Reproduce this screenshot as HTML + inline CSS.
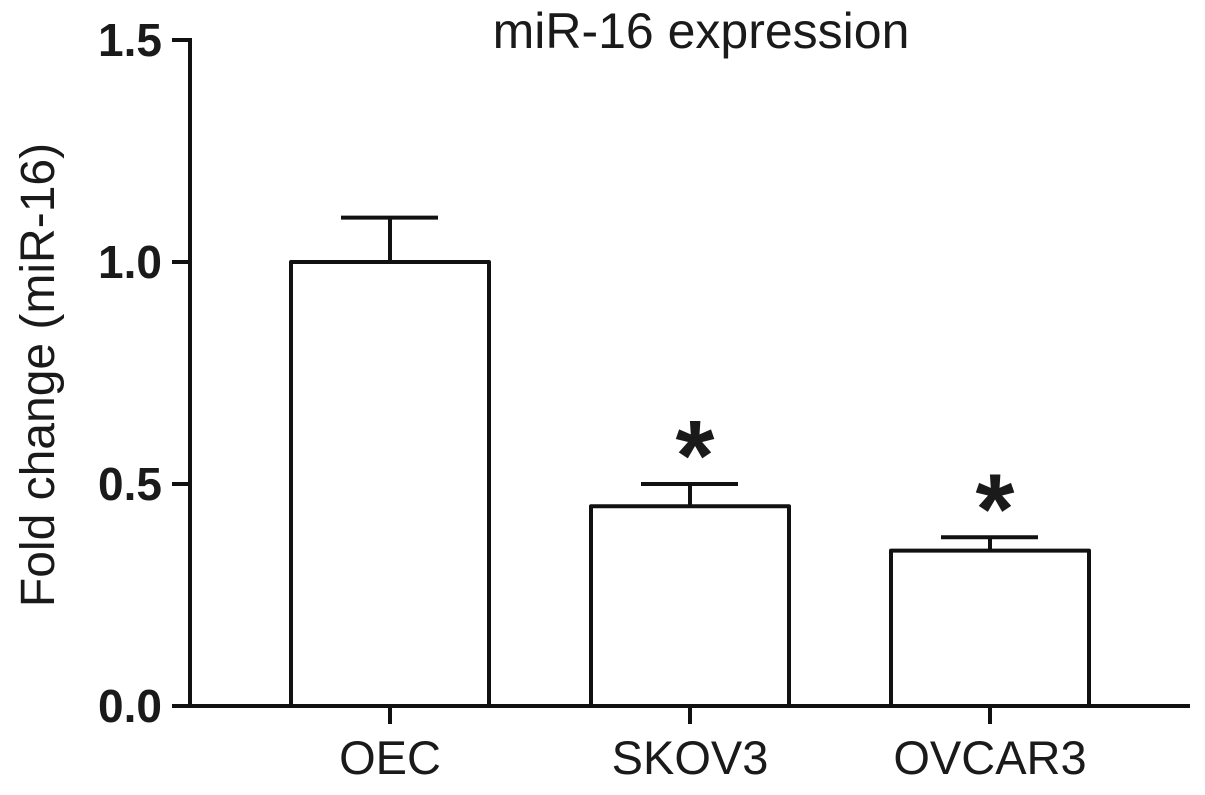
<!DOCTYPE html>
<html><head><meta charset="utf-8"><style>
body{margin:0;background:#fff}
svg text{font-family:"Liberation Sans",Arial,sans-serif;fill:#1a1a1a}
</style></head><body>
<svg width="1205" height="790" xmlns="http://www.w3.org/2000/svg">
<g id="g"></g>
</svg>
<script>
const categories=["OEC","SKOV3","OVCAR3"];
const means=[1.0,0.45,0.35];
const errors=[0.1,0.05,0.03];
const sig=[false,true,true];
const ticks=[0.0,0.5,1.0,1.5];
const tickLabels=["0.0","0.5","1.0","1.5"];
const NS="http://www.w3.org/2000/svg";
const g=document.getElementById('g');
const y0=706,yTop=40,ax=190,axEnd=1190;
const y=v=>y0-(v/1.5)*(y0-yTop);
const xc=i=>390+i*300;
function el(t,a,txt){const e=document.createElementNS(NS,t);for(const k in a)e.setAttribute(k,a[k]);if(txt!==undefined)e.textContent=txt;g.appendChild(e);return e;}
const S={stroke:"#111","stroke-width":4,fill:"none"};
let e=el('line',Object.assign({x1:ax,y1:yTop-2,x2:ax,y2:y0+2},S));


e=el('line',Object.assign({x1:ax-2,y1:y0,x2:axEnd,y2:y0},S));


ticks.forEach((t,i)=>{
 let l=el('line',Object.assign({x1:172,y1:y(t),x2:ax,y2:y(t)},S));
 
 
 let tx=el('text',{x:162,y:y(t)+16,"text-anchor":"end","font-size":46,"font-weight":"bold"},tickLabels[i]);
 
 
});
categories.forEach((c,i)=>{
 const x=xc(i);
 let l=el('line',Object.assign({x1:x,y1:y0,x2:x,y2:y0+18},S));
 
 
 let b=el('rect',Object.assign({x:x-99,y:y(means[i]),width:198,height:y0-y(means[i])},S,{"stroke-linejoin":"round"}));
 
 
 let eb=el('line',Object.assign({x1:x,y1:y(means[i]),x2:x,y2:y(means[i]+errors[i])},S));
 
 
 let cap=el('line',Object.assign({x1:x-49,y1:y(means[i]+errors[i]),x2:x+48,y2:y(means[i]+errors[i])},S));
 
 
 let lb=el('text',{x:x,y:774,"text-anchor":"middle","font-size":47},c);
 
 
 if(sig[i]){
  let s=el('text',{x:x+5,y:y(means[i]+errors[i])+6,"text-anchor":"middle","font-size":100,"font-weight":"bold"},"*");
  
  
 }
});
let t=el('text',{x:701,y:48,"text-anchor":"middle","font-size":50},"miR-16 expression");


t=el('text',{x:0,y:0,"text-anchor":"middle","font-size":48,transform:"translate(54,375) rotate(-90)"},"Fold change (miR-16)");


</script>
</body></html>
